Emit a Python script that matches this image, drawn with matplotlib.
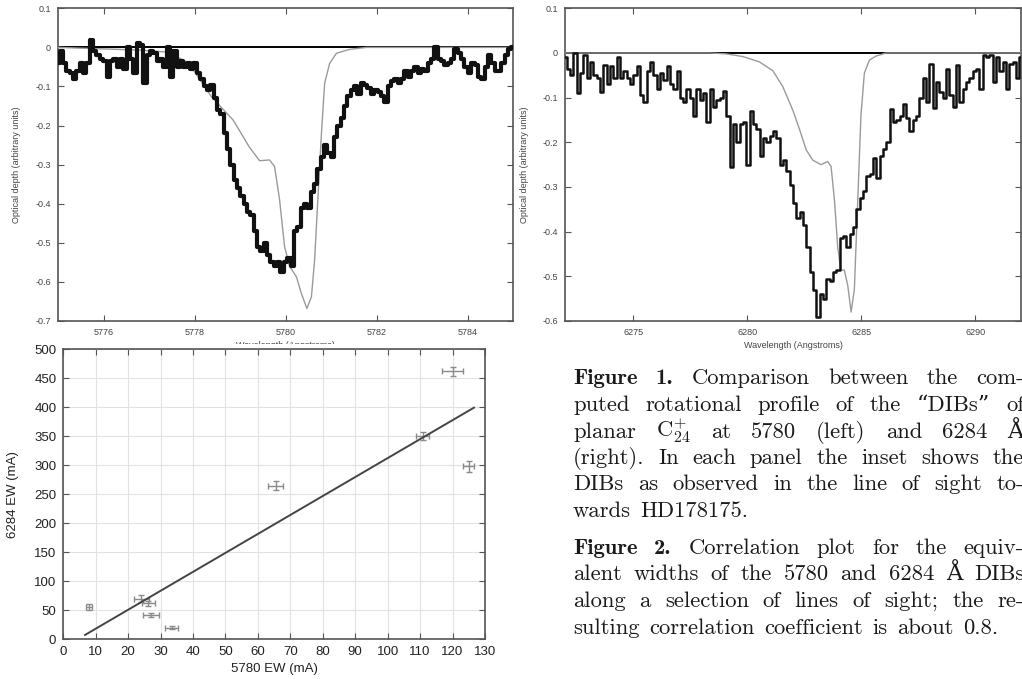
import numpy as np
import matplotlib.pyplot as plt
from matplotlib.patches import Rectangle

plt.rcParams['axes.unicode_minus'] = False
plt.rcParams['mathtext.fontset'] = 'cm'
plt.rcParams['font.family'] = ['Liberation Sans', 'DejaVu Sans']

# ---------------- 5780 band (left panel) ----------------
wl_5780_lim = (5775.0, 5785.0)
tau_5780_obs = [
    -0.04, -0.01, -0.04, -0.06, -0.065, -0.08, -0.06, -0.04, -0.065, -0.04,
    0.02, -0.01, -0.02, -0.03, -0.035, -0.075, -0.035, -0.03, -0.05, -0.03,
    -0.055, 0.0, -0.03, -0.065, 0.01, 0.005, -0.09, -0.02, -0.01, -0.015,
    -0.035, -0.03, -0.05, 0.0, -0.075, -0.01, -0.05, -0.035, -0.05, -0.04,
    -0.055, -0.04, -0.065, -0.08, -0.10, -0.11, -0.095, -0.13, -0.16, -0.17,
    -0.22, -0.26, -0.30, -0.34, -0.36, -0.38, -0.40, -0.42, -0.43, -0.47,
    -0.51, -0.52, -0.50, -0.53, -0.55, -0.56, -0.55, -0.575, -0.55, -0.54,
    -0.56, -0.47, -0.46, -0.41, -0.40, -0.41, -0.37, -0.35, -0.31, -0.28,
    -0.25, -0.27, -0.28, -0.23, -0.20, -0.18, -0.15, -0.125, -0.11, -0.10,
    -0.12, -0.09, -0.095, -0.105, -0.12, -0.11, -0.115, -0.125, -0.14, -0.10,
    -0.085, -0.08, -0.09, -0.08, -0.06, -0.075, -0.06, -0.05, -0.065, -0.055,
    -0.06, -0.04, -0.03, 0.0, -0.03, -0.035, -0.045, -0.04, -0.03, -0.005,
    -0.015, -0.03, -0.05, -0.065, -0.04, -0.045, -0.075, -0.08, -0.05, -0.02,
    -0.04, -0.06, -0.06, -0.04, -0.02, -0.005, 0.0,
]
wl_5780_model = [5775.0, 5776.8, 5777.4, 5777.8, 5778.0, 5778.37, 5778.85, 5779.2,
                 5779.43, 5779.65, 5779.76, 5779.87, 5779.98, 5780.09, 5780.24, 5780.35,
                 5780.47, 5780.57, 5780.64, 5780.71, 5780.79, 5780.86, 5780.97, 5781.12,
                 5781.41, 5781.78, 5785.0]
tau_5780_model = [0.0, -0.007, -0.012, -0.035, -0.062, -0.126, -0.186, -0.254,
                  -0.29, -0.288, -0.305, -0.39, -0.51, -0.56, -0.587, -0.63,
                  -0.668, -0.638, -0.544, -0.39, -0.22, -0.092, -0.041, -0.015,
                  -0.005, 0.0, 0.0]
xticks_5780 = [5776, 5778, 5780, 5782, 5784]
yticks_5780 = [0.1, 0.0, -0.1, -0.2, -0.3, -0.4, -0.5, -0.6, -0.7]

# ---------------- 6284 band (right panel) ----------------
wl_6284_lim = (6272.0, 6292.0)
tau_6284_obs = [
    -0.01, -0.035, -0.05, 0.0, -0.09, -0.045, -0.005, -0.055, -0.02, -0.05,
    -0.055, -0.087, -0.027, -0.07, -0.03, -0.055, -0.01, -0.055, -0.04, -0.055,
    -0.07, -0.05, -0.03, -0.095, -0.11, -0.04, -0.02, -0.05, -0.08, -0.045,
    -0.06, -0.03, -0.07, -0.08, -0.04, -0.10, -0.11, -0.08, -0.10, -0.14,
    -0.08, -0.105, -0.09, -0.155, -0.08, -0.12, -0.105, -0.10, -0.085, -0.14,
    -0.255, -0.16, -0.20, -0.16, -0.155, -0.25, -0.13, -0.16, -0.17, -0.23,
    -0.19, -0.20, -0.185, -0.175, -0.19, -0.25, -0.24, -0.265, -0.295, -0.335,
    -0.37, -0.355, -0.385, -0.435, -0.49, -0.53, -0.59, -0.54, -0.55, -0.505,
    -0.51, -0.49, -0.485, -0.415, -0.41, -0.435, -0.405, -0.39, -0.35, -0.325,
    -0.31, -0.275, -0.27, -0.235, -0.28, -0.23, -0.215, -0.20, -0.125, -0.155,
    -0.15, -0.14, -0.115, -0.145, -0.175, -0.15, -0.14, -0.10, -0.057, -0.11,
    -0.025, -0.124, -0.065, -0.087, -0.10, -0.035, -0.094, -0.12, -0.026, -0.11,
    -0.08, -0.065, -0.057, -0.04, -0.035, -0.08, -0.005, -0.01, -0.005, -0.065,
    -0.01, -0.04, -0.02, -0.08, -0.025, -0.02, -0.057, -0.01,
]
wl_6284_model = [6272.0, 6278.35, 6279.07, 6279.8, 6280.53, 6281.12, 6281.55, 6281.99,
                 6282.28, 6282.58, 6282.87, 6283.23, 6283.52, 6283.67, 6283.82, 6283.96,
                 6284.1, 6284.25, 6284.4, 6284.55, 6284.69, 6284.84, 6284.98, 6285.13,
                 6285.35, 6285.64, 6286.08, 6292.0]
tau_6284_model = [0.0, 0.0, -0.002, -0.008, -0.02, -0.04, -0.075, -0.128,
                  -0.17, -0.217, -0.24, -0.25, -0.243, -0.254, -0.33, -0.434,
                  -0.486, -0.486, -0.52, -0.58, -0.53, -0.33, -0.14, -0.045,
                  -0.016, -0.007, 0.0, 0.0]
xticks_6284 = [6275, 6280, 6285, 6290]
yticks_6284 = [0.1, 0.0, -0.1, -0.2, -0.3, -0.4, -0.5, -0.6]

# ---------------- equivalent width correlation ----------------
ew_5780 = [7.9, 24.1, 26.2, 27.0, 33.5, 65.5, 110.8, 120.0, 125.0]
ew_6284 = [56, 70, 62, 42, 20, 265, 351, 462, 298]
ew_5780_err = [1.0, 2.2, 2.0, 2.5, 2.0, 2.3, 2.0, 3.2, 1.7]
ew_6284_err = [5, 6, 4, 3, 3, 8, 7, 8, 9]
fit_x = [6.7, 126.6]
fit_y = [7.5, 399.4]

caption_fig1 = [
    "Figure 1. Comparison between the com-",
    "puted rotational profile of the \u201cDIBs\u201d of",
    "planar C$_{24}^{+}$ at 5780 (left) and 6284 \u00c5",
    "(right). In each panel the inset shows the",
    "DIBs as observed in the line of sight to-",
    "wards HD178175.",
]
caption_fig2 = [
    "Figure 2. Correlation plot for the equiv-",
    "alent widths of the 5780 and 6284 \u00c5 DIBs",
    "along a selection of lines of sight; the re-",
    "sulting correlation coefficient is about 0.8.",
]

W, H = 1022, 679
fig = plt.figure(figsize=(W / 100, H / 100), dpi=100)


def box(x0, y0, x1, y1):
    return [x0 / W, 1 - y1 / H, (x1 - x0) / W, (y1 - y0) / H]


def spectrum_panel(ax, tau_obs, lim, wl_mod, tau_mod, xticks, yticks, lw):
    wl = np.linspace(lim[0], lim[1], len(tau_obs))
    ax.axhline(0, color='black', lw=1.4, zorder=2)
    ax.plot(wl_mod, tau_mod, color='#9a9a9a', lw=1.0, zorder=3)
    ax.plot(wl, tau_obs, color='#111111', lw=lw, drawstyle='steps-mid', zorder=4)
    ax.set_xlim(lim)
    ax.set_ylim(yticks[-1], yticks[0])
    ax.set_xticks(xticks)
    ax.set_yticks(yticks)
    ax.set_yticklabels(['%g' % round(v, 1) for v in yticks])
    ax.tick_params(direction='in', top=True, right=True, length=4, width=0.8,
                   labelsize=6.5, labelcolor='#444444', color='#555555', pad=5)
    for s in ax.spines.values():
        s.set_color('#555555')
        s.set_linewidth(1.2)
    ax.set_ylabel('Optical depth (arbitrary units)', fontsize=6.5, color='#444444')
    ax.set_xlabel('Wavelength (Angstroms)', fontsize=6.5, color='#444444')


ax1 = fig.add_axes(box(58, 8.3, 513, 321))
spectrum_panel(ax1, tau_5780_obs, wl_5780_lim, wl_5780_model, tau_5780_model,
               xticks_5780, yticks_5780, 3.0)
ax1.yaxis.set_label_coords(-37 / 455, 0.5)
ax1.xaxis.set_label_coords(0.5, -20 / 313)

ax2 = fig.add_axes(box(565, 8.3, 1021, 321))
spectrum_panel(ax2, tau_6284_obs, wl_6284_lim, wl_6284_model, tau_6284_model,
               xticks_6284, yticks_6284, 1.8)
ax2.yaxis.set_label_coords(-36 / 456, 0.5)
ax2.xaxis.set_label_coords(0.5, -20 / 313)

# correlation plot (its white background hides the lower half of the left xlabel)
ax3 = fig.add_axes(box(63.3, 349.3, 485, 639.3))
ax3.add_patch(Rectangle((0, 0), 0.515, 1 - 344 / H, transform=fig.transFigure,
                        facecolor='white', edgecolor='none', zorder=-5, clip_on=False))
ax3.errorbar(ew_5780, ew_6284, xerr=ew_5780_err, yerr=ew_6284_err, fmt='none',
             ecolor='#8a8a8a', elinewidth=1.0, capsize=2, capthick=1.0, zorder=3)
ax3.plot(fit_x, fit_y, color='#444444', lw=1.4, zorder=4)
ax3.set_xlim(0, 130)
ax3.set_ylim(0, 500)
ax3.set_xticks(np.arange(0, 131, 10))
ax3.set_yticks(np.arange(0, 501, 50))
ax3.grid(True, color='#e2e2e2', lw=0.8)
ax3.set_axisbelow(True)
ax3.tick_params(direction='in', top=True, right=True, length=4, width=0.8,
                labelsize=9.5, labelcolor='#222222', color='#555555', pad=5)
for s in ax3.spines.values():
    s.set_color('#555555')
    s.set_linewidth(1.2)
ax3.set_xlabel('5780 EW (mA)', fontsize=9.5, color='#222222')
ax3.set_ylabel('6284 EW (mA)', fontsize=9.5, color='#222222')
ax3.xaxis.set_label_coords(0.5, -24 / 290)
ax3.yaxis.set_label_coords(-44 / 421.7, 0.5)

# caption, justified like the typeset page
CAP_X0, CAP_X1 = 573, 1024
FS = 16.3
renderer = fig.canvas.get_renderer()


def paragraph(lines, y0, step):
    for k, line in enumerate(lines):
        words = line.split(' ')
        arts = []
        for j, w in enumerate(words):
            bold = k == 0 and j < 2
            fam = ['cmb10', 'DejaVu Serif'] if bold else ['cmr10', 'DejaVu Serif']
            arts.append(fig.text(0, 0, w, fontsize=FS, family=fam,
                                 ha='left', va='baseline', color='#1a1a1a'))
        widths = [a.get_window_extent(renderer).width for a in arts]
        if k == len(lines) - 1:
            gap = 0.42 * FS * 100 / 72
        else:
            gap = (CAP_X1 - CAP_X0 - sum(widths)) / (len(words) - 1)
        x = CAP_X0
        y = 1 - (y0 + k * step) / H
        for a, w in zip(arts, widths):
            a.set_position((x / W, y))
            x += w + gap


paragraph(caption_fig1, 384.5, 26.5)
paragraph(caption_fig2, 554, 26.5)

fig.savefig('out.png', dpi=100)
